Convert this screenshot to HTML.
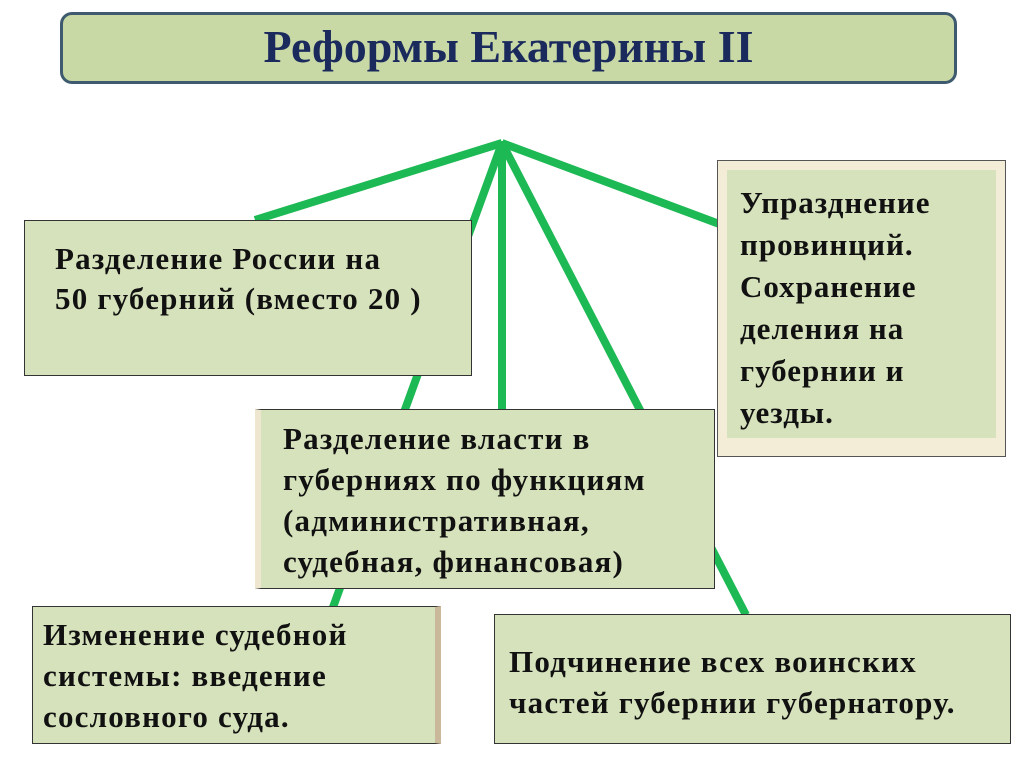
<!DOCTYPE html>
<html><head><meta charset="utf-8"><style>
body{margin:0;width:1024px;height:767px;background:#fff;position:relative;overflow:hidden;font-family:"Liberation Serif",serif;font-weight:bold;color:#111}
.b{position:absolute;box-sizing:border-box;background:#d6e2bc;border:1px solid #333;font-size:31px;line-height:41px;letter-spacing:1.2px;white-space:nowrap}
.t{position:absolute;left:60px;top:12px;width:897px;height:72px;box-sizing:border-box;border:3px solid #3d5a6e;border-radius:12px;background:#c9d9a6;color:#1b2a5c;font-size:46px;text-align:center;line-height:64px}
</style></head><body>
<svg width="1024" height="767" style="position:absolute;left:0;top:0">
<g stroke="#1db954" stroke-width="8" stroke-linecap="butt">
<line x1="502" y1="143" x2="255" y2="220"/>
<line x1="502" y1="143" x2="332" y2="610"/>
<line x1="502" y1="141" x2="502" y2="410"/>
<line x1="502" y1="143" x2="746" y2="615"/>
<line x1="502" y1="143" x2="722" y2="225"/>
</g></svg>
<div class="t">Реформы Екатерины II</div>
<div class="b" style="left:24px;top:220px;width:448px;height:156px;padding:18px 0 0 30px;line-height:40px">Разделение России на<br>50 губерний (вместо 20 )</div>
<div class="b" style="left:717px;top:160px;width:289px;height:297px;background:#f3ecd6;border-color:#555">
<div style="position:absolute;left:9px;top:9px;width:269px;height:268px;background:#d6e2bc;padding:12px 0 0 13px;box-sizing:border-box;line-height:42px;font-size:31px;letter-spacing:1px">Упразднение<br>провинций.<br>Сохранение<br>деления на<br>губернии и<br>уезды.</div></div>
<div class="b" style="left:255px;top:409px;width:460px;height:180px;padding:8px 0 0 22px;border-left:6px solid #efe6cf">Разделение власти в<br>губерниях по функциям<br>(административная,<br>судебная, финансовая)</div>
<div class="b" style="left:32px;top:606px;width:409px;height:138px;padding:7px 0 0 10px;border-right:6px solid #c9b99a">Изменение судебной<br>системы: введение<br>сословного суда.</div>
<div class="b" style="left:494px;top:614px;width:517px;height:130px;padding:26px 0 0 14px">Подчинение всех воинских<br>частей губернии губернатору.</div>
</body></html>
